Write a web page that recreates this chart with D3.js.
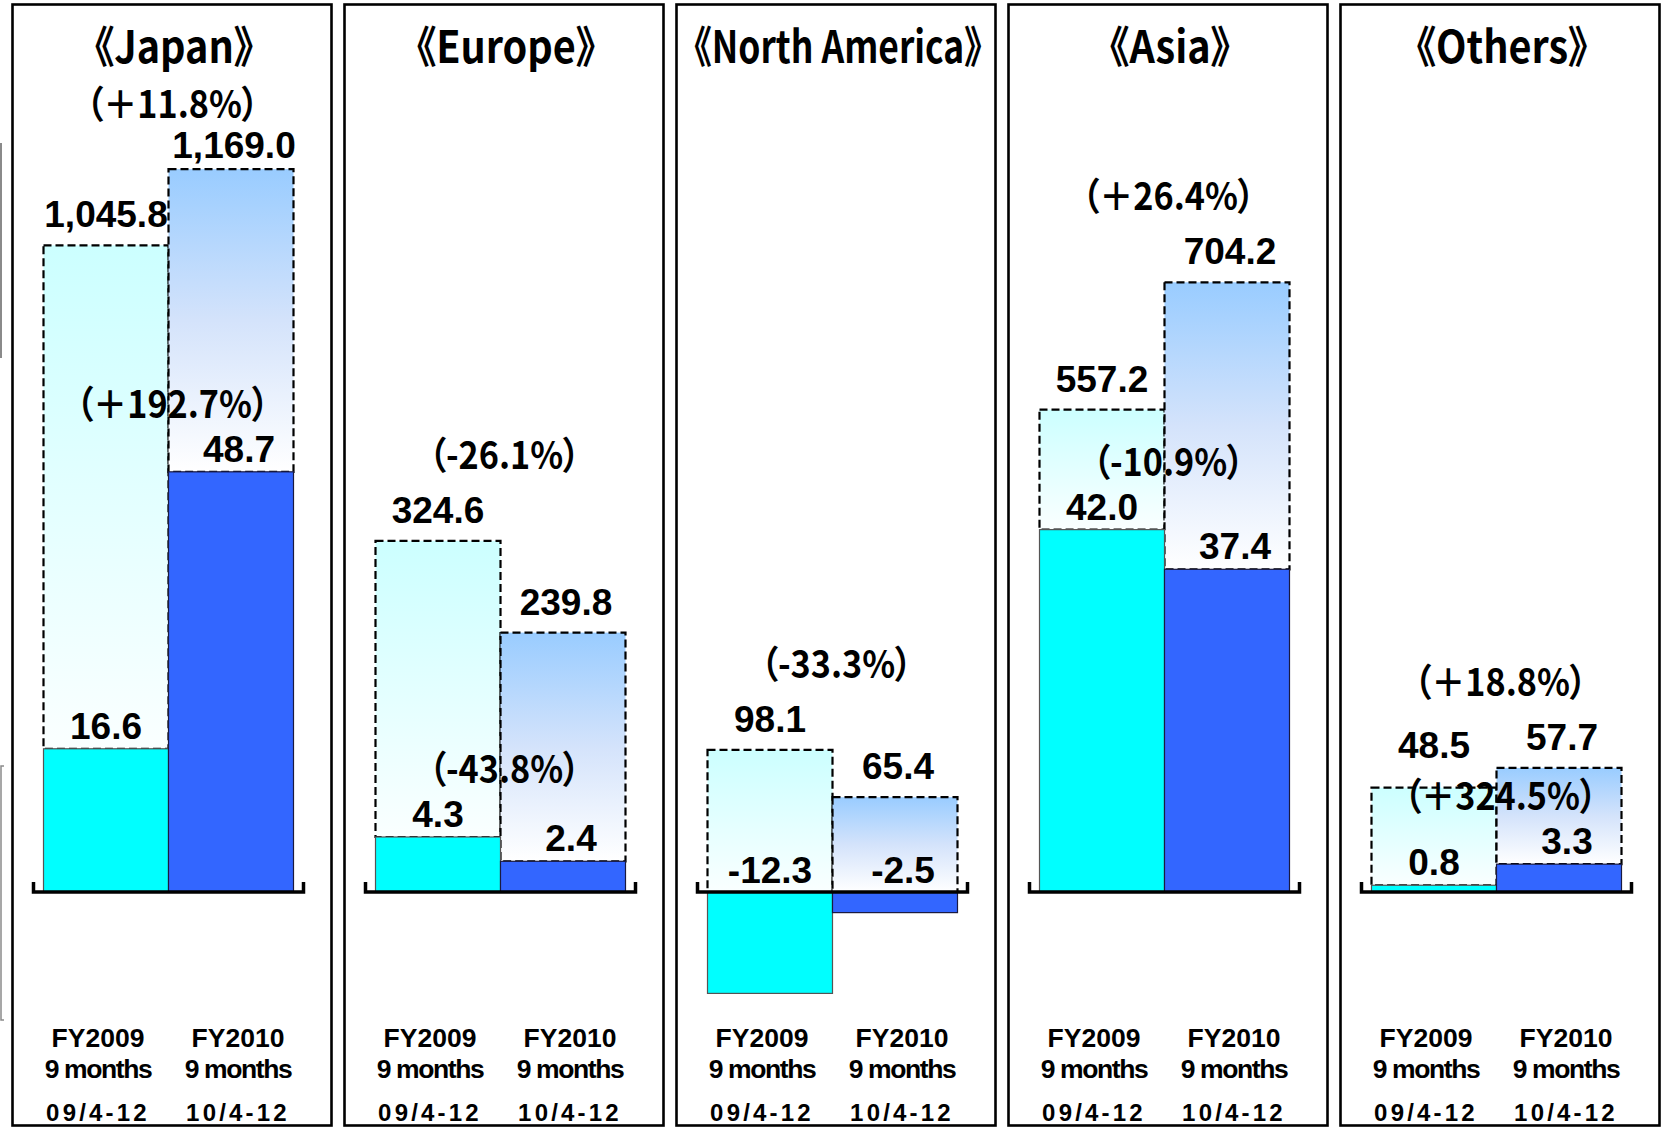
<!DOCTYPE html>
<html>
<head>
<meta charset="utf-8">
<script src="https://cdn.jsdelivr.net/npm/d3@7/dist/d3.min.js"></script>
<style>
  html, body { margin: 0; padding: 0; background: #fff; }
  svg { display: block; }
  text { font-family: "Noto Sans CJK JP", "Noto Sans", sans-serif; font-weight: 700; fill: #000;
         font-feature-settings: "palt"; }
  text.num, text.period { font-family: "Liberation Sans", Arial, sans-serif; }
</style>
</head>
<body>
<svg id="chart" width="1663" height="1131"></svg>
<script>
// Net sales and operating income by region, nine-month comparison (billions of yen)
const regions    = ["Japan", "Europe", "North America", "Asia", "Others"];
const periods    = ["FY2009", "FY2010"];
const periodSub  = ["9 months", "9 months"];
const periodSpan = ["09/4-12", "10/4-12"];

const sales2009  = [1045.8, 324.6, 98.1, 557.2, 48.5];
const sales2010  = [1169.0, 239.8, 65.4, 704.2, 57.7];
const income2009 = [16.6, 4.3, -12.3, 42.0, 0.8];
const income2010 = [48.7, 2.4, -2.5, 37.4, 3.3];

const salesChange  = [11.8, -26.1, -33.3, 26.4, 18.8];
const incomeChange = [192.7, -43.8, null, -10.9, 324.5];

// each region panel is drawn on its own pair of value axes
const salesAxisMax  = [1200, 686, 512, 857, 345];
const incomeAxisMax = [86, 58, 90, 86, 88];

const svg = d3.select("#chart");
const baseY = 892, topY = 150;

const panelX = d3.scaleBand().domain(regions).range([12.5, 1659.5]).paddingInner(13 / 332);

// gradients for the net-sales bars
const defs = svg.append("defs");
function grad(id, stops) {
  const g = defs.append("linearGradient").attr("id", id)
    .attr("x1", 0).attr("y1", 0).attr("x2", 0).attr("y2", 1);
  stops.forEach(([o, c]) => g.append("stop").attr("offset", o).attr("stop-color", c));
}
grad("g2009", [[0, "#CCFFFF"], [1, "#FAFFFF"]]);
grad("g2010", [[0, "#99CCFF"], [0.5, "#D4E3FB"], [1, "#FFFFFF"]]);

const fmtVal = v => (v < 0 ? "-" : "") + d3.format(",.1f")(Math.abs(v));
const fmtPct = v => "（" + (v >= 0 ? "＋" : "-") + d3.format(".1f")(Math.abs(v)) + "%）";

// centred label, squeezed horizontally by sx (and further if it would exceed maxW)
function label(g, x, y, str, size, sx, maxW, cls) {
  const wrap = g.append("g");
  const t = wrap.append("text").attr("text-anchor", "middle").attr("font-size", size).text(str);
  if (cls) t.attr("class", cls);
  let k = sx;
  if (maxW) {
    const w = t.node().getComputedTextLength();
    if (w * k > maxW) k = maxW / w;
  }
  wrap.attr("transform", `translate(${x},${y}) scale(${k},1)`);
  return t;
}

// stray slide edges at the far left
svg.append("path").attr("d", "M1,143V358").attr("stroke", "#8a8a8a").attr("stroke-width", 2).attr("fill", "none");
svg.append("path").attr("d", "M4,766H1V1020H4").attr("stroke", "#8a8a8a").attr("stroke-width", 1.5).attr("fill", "none");

regions.forEach((region, i) => {
  const px = panelX(region);
  const pw = panelX.bandwidth();
  const g = svg.append("g");

  g.append("rect").attr("x", px).attr("y", 4.5).attr("width", pw).attr("height", 1121)
    .attr("fill", "#fff").attr("stroke", "#000").attr("stroke-width", 2.6);

  const x = d3.scaleBand().domain(periods).range([px + 31, px + 281]);
  const ys = d3.scaleLinear().domain([0, salesAxisMax[i]]).range([baseY, topY]);
  const yi = d3.scaleLinear().domain([0, incomeAxisMax[i]]).range([baseY, topY]);

  const rows = [
    { p: periods[0], s: sales2009[i], inc: income2009[i], grad: "g2009", fill: "#00FFFF", edge: "#555", dx: 0, dxi: 0 },
    { p: periods[1], s: sales2010[i], inc: income2010[i], grad: "g2010", fill: "#3366FF", edge: "#1a1a40", dx: 3, dxi: 8 }
  ];

  rows.forEach(r => {
    const bx = x(r.p), bw = x.bandwidth();
    const incTop = Math.min(yi(r.inc), baseY);
    // net sales: dashed box from the operating-income top up to the sales level
    g.append("rect").attr("x", bx).attr("y", ys(r.s)).attr("width", bw)
      .attr("height", incTop - ys(r.s))
      .attr("fill", `url(#${r.grad})`).attr("stroke", "#000").attr("stroke-width", 2.2)
      .attr("stroke-dasharray", "8,4");
  });
  rows.forEach(r => {
    const bx = x(r.p), bw = x.bandwidth();
    const y0 = yi(Math.max(r.inc, 0)), y1 = yi(Math.min(r.inc, 0));
    g.append("rect").attr("x", bx).attr("y", y0).attr("width", bw).attr("height", y1 - y0)
      .attr("fill", r.fill).attr("stroke", r.edge).attr("stroke-width", 1.2);
  });

  // baseline with upturned ends
  const ax0 = x.range()[0] - 10, ax1 = x.range()[1] + 10;
  g.append("path").attr("d", `M${ax0},${baseY - 10}V${baseY}H${ax1}V${baseY - 10}`)
    .attr("fill", "none").attr("stroke", "#000").attr("stroke-width", 3.5);

  // title
  label(g, px + pw / 2 + 2, 63, "《" + region + "》", 44, 0.9, 288);

  const mid = x.range()[0] + x.bandwidth() + 4;
  const cx = r => x(r.p) + x.bandwidth() / 2;

  // operating income labels, then its change above them
  const incY = rows.map(r => r.inc >= 0 ? yi(r.inc) - 10 : baseY - 9);
  rows.forEach((r, k) => label(g, cx(r) + r.dxi, incY[k], fmtVal(r.inc), 37, 1, 0, "num"));
  const ipY = incomeChange[i] !== null ? Math.min(...incY) - 44 : null;
  if (ipY !== null) label(g, mid, ipY, fmtPct(incomeChange[i]), 38, 0.9);

  // net sales labels stay clear of the income change; sales change goes above them
  let salesY = rows.map(r => ipY !== null ? Math.min(ys(r.s) - 18, ipY - 52) : ys(r.s) - 18);
  const spY = Math.max(Math.min(...salesY) - 54, 118);
  salesY = salesY.map(v => Math.max(v, spY + 40));
  rows.forEach((r, k) => label(g, cx(r) + r.dx, salesY[k], fmtVal(r.s), 37, 1, 0, "num"));
  label(g, mid, spY, fmtPct(salesChange[i]), 38, 0.9);

  // period labels: three stacked lines under each bar
  periods.forEach((p, k) => {
    const lx = x(p) + x.bandwidth() / 2 + (k === 0 ? -8 : 7);
    const t = g.append("text").attr("class", "period").attr("text-anchor", "middle");
    t.append("tspan").attr("x", lx).attr("y", 1047).attr("font-size", 26.5).text(p);
    t.append("tspan").attr("x", lx).attr("y", 1078).attr("font-size", 26.5)
      .attr("letter-spacing", -1.4).text(periodSub[k]);
    t.append("tspan").attr("x", lx).attr("y", 1121).attr("font-size", 24)
      .attr("letter-spacing", 3.2).text(periodSpan[k]);
  });
});
</script>
</body>
</html>
